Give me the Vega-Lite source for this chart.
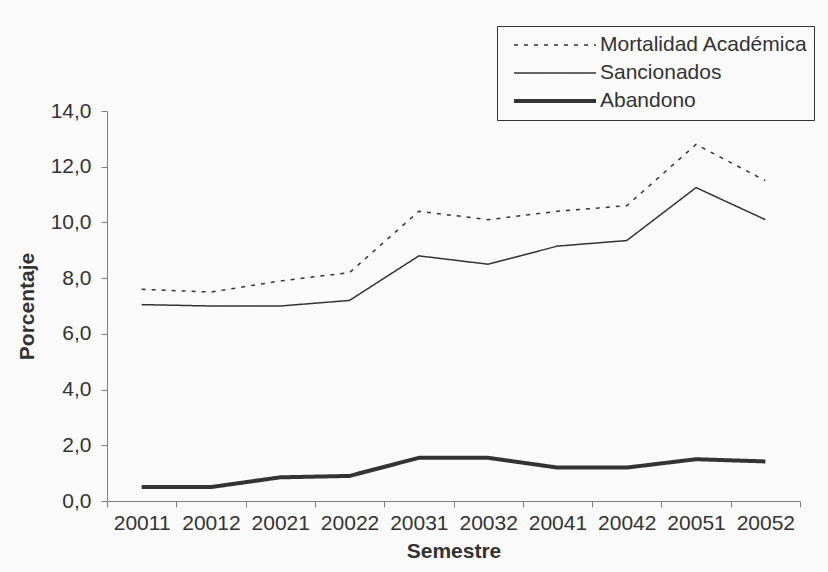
{
  "$schema": "https://vega.github.io/schema/vega-lite/v6.json",
  "width": 693,
  "height": 390,
  "autosize": {"type": "none"},
  "padding": {"left": 107, "top": 111, "right": 28, "bottom": 71},
  "background": "#fafafa",
  "data": {
    "values": [
      {"semestre": "20011", "serie": "Mortalidad Académica", "valor": 7.6},
      {"semestre": "20012", "serie": "Mortalidad Académica", "valor": 7.5},
      {"semestre": "20021", "serie": "Mortalidad Académica", "valor": 7.9},
      {"semestre": "20022", "serie": "Mortalidad Académica", "valor": 8.2},
      {"semestre": "20031", "serie": "Mortalidad Académica", "valor": 10.4},
      {"semestre": "20032", "serie": "Mortalidad Académica", "valor": 10.1},
      {"semestre": "20041", "serie": "Mortalidad Académica", "valor": 10.4},
      {"semestre": "20042", "serie": "Mortalidad Académica", "valor": 10.6},
      {"semestre": "20051", "serie": "Mortalidad Académica", "valor": 12.8},
      {"semestre": "20052", "serie": "Mortalidad Académica", "valor": 11.5},
      {"semestre": "20011", "serie": "Sancionados", "valor": 7.05},
      {"semestre": "20012", "serie": "Sancionados", "valor": 7.0},
      {"semestre": "20021", "serie": "Sancionados", "valor": 7.0},
      {"semestre": "20022", "serie": "Sancionados", "valor": 7.2},
      {"semestre": "20031", "serie": "Sancionados", "valor": 8.8},
      {"semestre": "20032", "serie": "Sancionados", "valor": 8.5},
      {"semestre": "20041", "serie": "Sancionados", "valor": 9.15},
      {"semestre": "20042", "serie": "Sancionados", "valor": 9.35},
      {"semestre": "20051", "serie": "Sancionados", "valor": 11.25},
      {"semestre": "20052", "serie": "Sancionados", "valor": 10.1},
      {"semestre": "20011", "serie": "Abandono", "valor": 0.5},
      {"semestre": "20012", "serie": "Abandono", "valor": 0.5},
      {"semestre": "20021", "serie": "Abandono", "valor": 0.85},
      {"semestre": "20022", "serie": "Abandono", "valor": 0.9},
      {"semestre": "20031", "serie": "Abandono", "valor": 1.55},
      {"semestre": "20032", "serie": "Abandono", "valor": 1.55},
      {"semestre": "20041", "serie": "Abandono", "valor": 1.2},
      {"semestre": "20042", "serie": "Abandono", "valor": 1.2},
      {"semestre": "20051", "serie": "Abandono", "valor": 1.5},
      {"semestre": "20052", "serie": "Abandono", "valor": 1.42}
    ]
  },
  "mark": {"type": "line", "color": "#333333", "strokeCap": "butt"},
  "encoding": {
    "x": {
      "field": "semestre",
      "type": "ordinal",
      "title": "Semestre",
      "scale": {"paddingInner": 0, "paddingOuter": 0},
      "axis": {
        "labelAngle": 0,
        "tickBand": "extent",
        "tickSize": 6,
        "tickColor": "#808080",
        "domainColor": "#808080",
        "labelFont": "Liberation Sans",
        "labelFontSize": 21,
        "labelColor": "#333333",
        "labelPadding": 5,
        "titleFont": "Liberation Sans",
        "titleFontSize": 21,
        "titleFontWeight": "bold",
        "titleColor": "#333333",
        "titlePadding": 7
      }
    },
    "y": {
      "field": "valor",
      "type": "quantitative",
      "title": "Porcentaje",
      "scale": {"domain": [0, 14]},
      "axis": {
        "values": [0, 2, 4, 6, 8, 10, 12, 14],
        "labelExpr": "replace(format(datum.value, '.1f'), '.', ',')",
        "grid": false,
        "tickSize": 6,
        "tickColor": "#808080",
        "domainColor": "#808080",
        "labelFont": "Liberation Sans",
        "labelFontSize": 21,
        "labelColor": "#333333",
        "labelPadding": 10,
        "titleFont": "Liberation Sans",
        "titleFontSize": 21,
        "titleFontWeight": "bold",
        "titleColor": "#333333",
        "titlePadding": 13
      }
    },
    "strokeDash": {
      "field": "serie",
      "type": "nominal",
      "scale": {
        "domain": ["Mortalidad Académica", "Sancionados", "Abandono"],
        "range": [[4, 6], [1, 0], [1, 0]]
      },
      "legend": {
        "title": null,
        "orient": "none",
        "legendX": 390,
        "legendY": -85,
        "symbolType": "stroke",
        "symbolSize": 6724,
        "symbolOffset": 9,
        "symbolStrokeColor": "#333333",
        "clipHeight": 26,
        "labelFont": "Liberation Sans",
        "labelFontSize": 21,
        "labelColor": "#333333",
        "labelOffset": 2,
        "labelLimit": 400,
        "strokeColor": "#333333",
        "fillColor": "#fafafa",
        "padding": 6,
        "rowPadding": 2
      }
    },
    "strokeWidth": {
      "field": "serie",
      "type": "nominal",
      "scale": {
        "type": "ordinal",
        "domain": ["Mortalidad Académica", "Sancionados", "Abandono"],
        "range": [1.5, 1.5, 4]
      },
      "legend": {
        "title": null,
        "orient": "none",
        "legendX": 390,
        "legendY": -85,
        "symbolType": "stroke",
        "symbolSize": 6724,
        "symbolOffset": 9,
        "symbolStrokeColor": "#333333",
        "clipHeight": 26,
        "labelFont": "Liberation Sans",
        "labelFontSize": 21,
        "labelColor": "#333333",
        "labelOffset": 2,
        "labelLimit": 400,
        "strokeColor": "#333333",
        "fillColor": "#fafafa",
        "padding": 6,
        "rowPadding": 2
      }
    }
  },
  "config": {
    "view": {"stroke": null}
  }
}
